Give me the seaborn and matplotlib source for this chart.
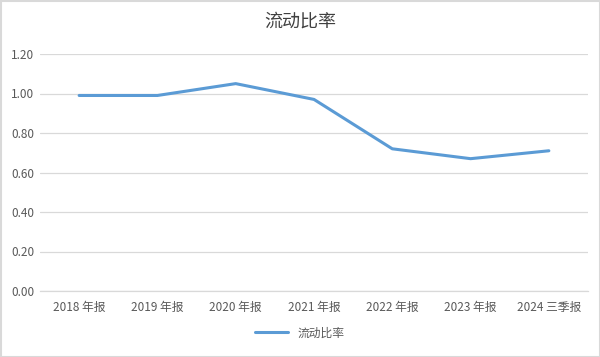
import matplotlib
matplotlib.use("Agg")
import matplotlib.pyplot as plt
import seaborn as sns
import pandas as pd
from matplotlib.patches import Rectangle

categories = ["2018 年报", "2019 年报", "2020 年报", "2021 年报", "2022 年报", "2023 年报", "2024 三季报"]
values = [0.99, 0.99, 1.05, 0.97, 0.72, 0.67, 0.71]
series_name = "流动比率"
yticks = [0.0, 0.2, 0.4, 0.6, 0.8, 1.0, 1.2]

sns.set_theme(style="white")
plt.rcParams['font.family'] = ['Noto Sans CJK SC', 'DejaVu Sans']

df = pd.DataFrame({"period": categories, "value": values, "series": series_name})

fig = plt.figure(figsize=(6.0, 3.57), dpi=100)
ax = fig.add_axes([40/600, 1-291/357, 548/600, (291-54)/357])

sns.lineplot(data=df, x="period", y="value", hue="series", palette=["#5B9BD5"],
             linewidth=2.2, ax=ax, sort=False)

ax.set_xlim(-0.5, len(categories) - 0.5)
ax.set_ylim(0, 1.2)
ax.set_yticks(yticks)
ax.set_yticklabels([f"{v:.2f}" for v in yticks])
ax.yaxis.grid(True, color="#d9d9d9", linewidth=0.9)
ax.set_axisbelow(True)
for s in ["top", "right", "left"]:
    ax.spines[s].set_visible(False)
ax.spines["bottom"].set_color("#d9d9d9")
ax.spines["bottom"].set_linewidth(0.9)
ax.tick_params(axis="both", length=0, labelsize=8.5, colors="#595959")
ax.tick_params(axis="x", pad=7)
ax.tick_params(axis="y", pad=4)
ax.set_xlabel("")
ax.set_ylabel("")

fig.text(0.5, 1-22/357, series_name, ha="center", va="center", fontsize=13, color="#404040")

handles, labels = ax.get_legend_handles_labels()
ax.legend(handles, labels, loc="center", bbox_to_anchor=(0.5, 1-333/357), bbox_transform=fig.transFigure,
          frameon=False, fontsize=8.5, labelcolor="#595959", handlelength=2.8)

fig.patches.append(Rectangle((0.5/600, 0.5/357), 1-1/600, 1-1/357, transform=fig.transFigure,
                             fill=False, edgecolor="#d9d9d9", linewidth=1.5))

fig.savefig("out.png", dpi=100, facecolor="white")
